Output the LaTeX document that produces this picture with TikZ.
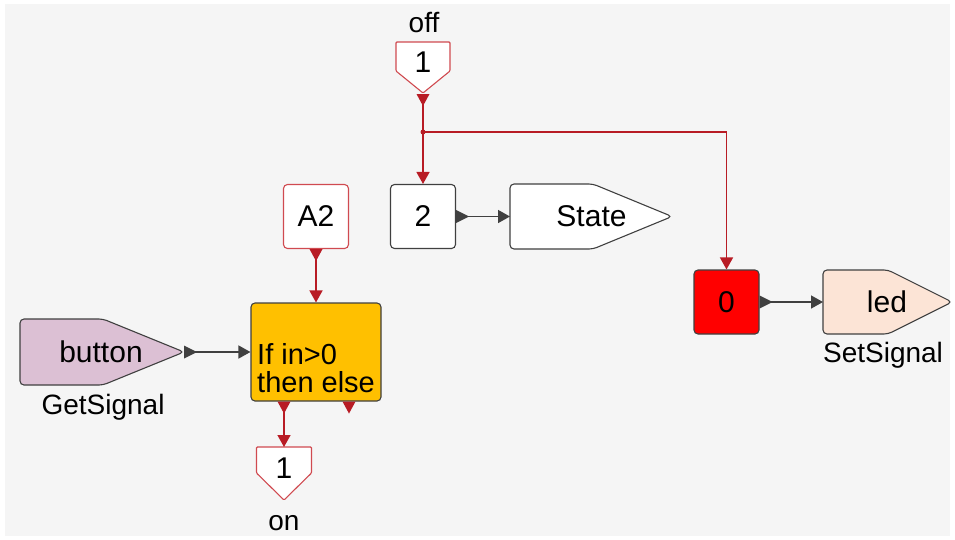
\documentclass[tikz,border=0pt]{standalone}
\usepackage{fontspec}
\setmainfont{Liberation Sans}
\usetikzlibrary{arrows.meta,calc}
\definecolor{bg}{HTML}{F5F5F5}
\definecolor{wire}{HTML}{B81C25}
\definecolor{redborder}{HTML}{D04A50}
\definecolor{dark}{HTML}{404040}
\definecolor{ifcol}{HTML}{FFC000}
\definecolor{lav}{HTML}{DCC0D4}
\definecolor{peach}{HTML}{FCE4D6}
\definecolor{purered}{HTML}{FF0000}
\newcommand\outdown[2]{\fill[#2] ($(#1)+(-6.5,0)$) -- ($(#1)+(6.5,0)$) -- ($(#1)+(0,12)$) -- cycle;}
\newcommand\outright[2]{\fill[#2] ($(#1)+(0,-6.5)$) -- ($(#1)+(0,6.5)$) -- ($(#1)+(13,0)$) -- cycle;}
\begin{document}
\begin{tikzpicture}[x=1pt,y=-1pt,
  font=\fontsize{30}{34}\selectfont,
  blockbox/.style={draw=dark, line width=1.1pt, rounded corners=4pt, minimum width=65pt, minimum height=64pt, inner sep=0pt},
  shapeline/.style={line width=1.1pt, rounded corners=4pt},
  txt/.style={inner sep=0pt},
  lbl/.style={inner sep=0pt, anchor=base, font=\fontsize{28}{32}\selectfont},
  redwire/.style={wire, line width=1.5pt, -{Triangle[length=12pt,width=13pt]}},
  greywire/.style={dark, line width=1.5pt, -{Triangle[length=12pt,width=13pt]}}]
\useasboundingbox (0,0) rectangle (955,539);
\fill[white] (0,0) rectangle (955,539);
\fill[bg] (5,4) rectangle (950,536);

% off constant
\draw[shapeline, draw=redborder, fill=white, rounded corners=1pt] (396,42) -- (450,42) -- (450,71) -- (423,93) -- (396,71) -- cycle;
\node[txt] (offone) at (423,62) {1};
\node[lbl] (offlbl) at (424,32) {off};
\coordinate (offtip) at (423,94);
\coordinate (jn) at (423,132);

% block 2 and State
\node[blockbox, fill=white] (two) at (423,216.5) {2};
\draw[shapeline, draw=dark, fill=white] (510,184) -- (593,184) -- (672,216.5) -- (593,249) -- (510,249) -- cycle;
\node[txt] (state) at (591.5,216.5) {State};
\coordinate (statein) at (510,216.5);

% A2
\node[blockbox, draw=redborder, fill=white] (atwo) at (316,216.5) {A2};

% If block
\node[blockbox, fill=ifcol, minimum width=130pt, minimum height=98pt] (ifb) at (316,352) {};
\node[txt, anchor=base west, font=\fontsize{29}{33}\selectfont] (ifa) at (257,364) {If in>0};
\node[txt, anchor=base west, font=\fontsize{29}{33}\selectfont] (ifc) at (257,392) {then else};
\coordinate (ifl) at ($(ifb.south)+(-32,0)$);
\coordinate (ifr) at ($(ifb.south)+(33,0)$);

% on constant
\draw[shapeline, draw=redborder, fill=white, rounded corners=1pt] (256.5,447) -- (311.5,447) -- (311.5,473) -- (284,500) -- (256.5,473) -- cycle;
\node[txt] (onone) at (284,468) {1};
\node[lbl] (onlbl) at (284,530) {on};
\coordinate (onin) at (284,447);

% button
\draw[shapeline, draw=dark, fill=lav] (20,319) -- (103,319) -- (184,352) -- (103,385) -- (20,385) -- cycle;
\node[txt] (button) at (101,352) {button};
\node[lbl] (getlbl) at (103,414) {GetSignal};
\coordinate (buttip) at (184,352);

% zero and led
\node[blockbox, fill=purered] (zero) at (726.5,302) {0};
\draw[shapeline, draw=dark, fill=peach] (823,270) -- (888,270) -- (952,302) -- (888,334) -- (823,334) -- cycle;
\node[txt] (led) at (887,302) {led};
\node[lbl] (setlbl) at (883,362) {SetSignal};
\coordinate (ledin) at (823,302);

% red wires
\draw[wire, line width=1.5pt] (offtip) -- (jn);
\draw[redwire] (jn) -- (two.north);
\draw[redwire] (jn) -| (zero.north);
\fill[wire] (jn) circle (2.5pt);
\draw[redwire] (atwo.south) -- (ifb.north);
\draw[redwire] (ifl) -- (onin);
\outdown{offtip}{wire}
\outdown{atwo.south}{wire}
\outdown{ifl}{wire}
\outdown{ifr}{wire}

% grey wires
\draw[greywire] (buttip) -- (ifb.west);
\draw[greywire] (two.east) -- (statein);
\draw[greywire] (zero.east) -- (ledin);
\outright{buttip}{dark}
\outright{two.east}{dark}
\outright{zero.east}{dark}
\end{tikzpicture}
\end{document}
